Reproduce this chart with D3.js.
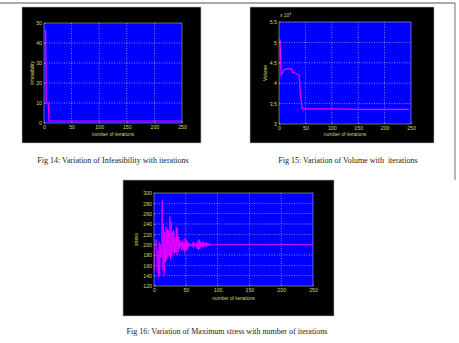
<!DOCTYPE html>
<html>
<head>
<meta charset="utf-8">
<script src="https://cdn.jsdelivr.net/npm/d3@7"></script>
<style>
  body { margin:0; background:#fff; }
  .tick text { fill:#d8d860; font-family:Arial, "Liberation Sans", sans-serif; }
  .cap { font-family:"Liberation Serif", "Times New Roman", serif; fill:#222; }
</style>
</head>
<body>
<div id="viz"></div>
<script>
// data
let xTicks = [0, 50, 100, 150, 200, 250]

// fig 14
let infIter = [1, 3, 4, 8, 9, 250]
let infVal  = [46, 46, 10, 10, 1, 1]
let infTicks = [0, 10, 20, 30, 40, 50]

// fig 15 (x 10^4)
let volIter = [0, 2, 4, 6, 10, 15, 24, 26, 30, 35, 38, 40, 44, 50, 100, 150, 200, 246]
let volVal  = [5.07, 5.05, 4.2, 4.25, 4.33, 4.35, 4.35, 4.27, 4.25, 4.22, 4.2, 3.8, 3.38, 3.37, 3.37, 3.36, 3.36, 3.36]
let volTicks = [3, 3.5, 4, 4.5, 5, 5.5]

// fig 16, one value per iteration 0..95 then flat
let stressVal = [150,175,205,210,200,150,190,135,205,140,
                 200,175,220,285,150,240,140,225,165,235,
                 170,230,175,228,180,255,172,245,178,225,
                 185,228,182,215,185,235,180,232,185,215,
                 192,208,195,205,188,210,190,205,185,212,
                 190,210,188,206,195,203,197,202,198,201,
                 196,205,194,204,198,202,195,203,192,208,
                 190,210,192,206,195,204,196,205,195,204,
                 197,203,196,204,197,203,198,202,198,202,
                 199,201,199,201,200,200]
let stressTail = [[250, 200]]
let stressTicks = [120, 140, 160, 180, 200, 220, 240, 260, 280, 300]

let W = 459, H = 343

let svg = d3.select("#viz")
  .append("svg")
    .attr("width", W)
    .attr("height", H)

svg.append("rect").attr("width", W).attr("height", H).attr("fill", "#fff")

// page borders
svg.append("line").attr("x1", 0).attr("x2", 455).attr("y1", 3).attr("y2", 3)
    .attr("stroke", "#555").attr("stroke-width", 1)
svg.append("line").attr("x1", 455).attr("x2", 455).attr("y1", 3).attr("y2", 180)
    .attr("stroke", "#888").attr("stroke-width", 1.2)

function panel(p) {
    let g = svg.append("g")

    // black figure
    g.append("rect")
        .attr("x", p.box[0]).attr("y", p.box[1])
        .attr("width", p.box[2]).attr("height", p.box[3])
        .attr("fill", "#000")
        .attr("stroke", "#bbb").attr("stroke-width", 0.6)

    let x = d3.scaleLinear().domain([0, 250]).range([p.plot[0], p.plot[0] + p.plot[2]])
    let y = d3.scaleLinear().domain(p.yDomain).range([p.plot[1] + p.plot[3], p.plot[1]])

    g.append("rect")
        .attr("x", p.plot[0]).attr("y", p.plot[1])
        .attr("width", p.plot[2]).attr("height", p.plot[3])
        .attr("fill", "#0000ff")

    // grid
    g.selectAll(".gx").data(xTicks.slice(1, -1)).join("line")
        .attr("x1", d => x(d)).attr("x2", d => x(d))
        .attr("y1", p.plot[1]).attr("y2", p.plot[1] + p.plot[3])
        .attr("stroke", "#fff").attr("stroke-width", 0.6).attr("stroke-dasharray", "1,1.5")
        .attr("opacity", 0.85)
    g.selectAll(".gy").data(p.yTicks.slice(1, -1)).join("line")
        .attr("y1", d => y(d)).attr("y2", d => y(d))
        .attr("x1", p.plot[0]).attr("x2", p.plot[0] + p.plot[2])
        .attr("stroke", "#fff").attr("stroke-width", 0.6).attr("stroke-dasharray", "1,1.5")
        .attr("opacity", 0.85)

    // line
    g.append("path")
        .datum(p.data)
        .attr("fill", "none")
        .attr("stroke", "#ff00ff")
        .attr("stroke-width", p.lw || 1.2)
        .attr("d", d3.line().x(d => x(d[0])).y(d => y(d[1])))

    // axes
    let xAxis = d3.axisBottom(x).tickValues(xTicks).tickSize(-1.5).tickPadding(2)
    let yAxis = d3.axisLeft(y).tickValues(p.yTicks).tickSize(-1.5).tickPadding(2)
        .tickFormat(p.yFmt || d3.format("d"))

    let gx = g.append("g").attr("transform", `translate(0,${p.plot[1] + p.plot[3]})`).call(xAxis)
    let gy = g.append("g").attr("transform", `translate(${p.plot[0]},0)`).call(yAxis)
    ;[gx, gy].forEach(a => {
        a.select(".domain").remove()
        a.selectAll(".tick line").attr("stroke", "#ccc").attr("stroke-width", 0.5)
        a.selectAll(".tick text").style("font-size", "5.2px")
    })

    // box
    g.append("rect")
        .attr("x", p.plot[0]).attr("y", p.plot[1])
        .attr("width", p.plot[2]).attr("height", p.plot[3])
        .attr("fill", "none").attr("stroke", "#b0b0b0").attr("stroke-width", 0.6)

    g.append("text")
        .attr("x", x(125)).attr("y", p.xLabY)
        .attr("text-anchor", "middle")
        .attr("fill", "#d8d860").style("font-size", "4.8px")
        .style("font-family", "Arial, 'Liberation Sans', sans-serif")
        .text("number of iterations")

    g.append("text")
        .attr("transform", `translate(${p.yLabX},${y((p.yDomain[0] + p.yDomain[1]) / 2)}) rotate(-90)`)
        .attr("text-anchor", "middle")
        .attr("fill", "#d8d860").style("font-size", "4.8px")
        .style("font-family", "Arial, 'Liberation Sans', sans-serif")
        .text(p.yLabel)

    g.append("text").attr("class", "cap")
        .attr("x", p.cap[0]).attr("y", p.cap[1])
        .attr("text-anchor", "middle")
        .style("font-size", "8px")
        .text(p.caption)
    return g
}

panel({
    box: [22, 7, 179, 136], plot: [44, 23, 138, 100],
    yDomain: [0, 50], yTicks: infTicks,
    data: infIter.map((d, i) => [d, infVal[i]]),
    xLabY: 136, yLabX: 34, yLabel: "Infeasibility",
    cap: [113, 163], caption: "Fig 14: Variation of Infeasibility with iterations"
})

let p2 = panel({
    box: [250, 7, 184, 136], plot: [279, 22, 132, 102],
    yDomain: [3, 5.5], yTicks: volTicks, yFmt: d3.format("~g"),
    data: volIter.map((d, i) => [d, volVal[i]]),
    xLabY: 136, yLabX: 267, yLabel: "Volume",
    cap: [348, 163], caption: "Fig 15: Variation of Volume with \u00a0iterations"
})
let mult = p2.append("text")
    .attr("x", 280).attr("y", 17)
    .attr("fill", "#d8d860").style("font-size", "4.8px")
    .style("font-family", "Arial, 'Liberation Sans', sans-serif")
    .text("x 10")
mult.append("tspan").attr("dy", -2).style("font-size", "3.6px").text("4")

panel({
    box: [123, 180, 211, 136], plot: [154, 193, 159, 93],
    yDomain: [120, 300], yTicks: stressTicks,
    data: stressVal.map((d, i) => [i, d]).concat(stressTail),
    lw: 0.8,
    xLabY: 300, yLabX: 138, yLabel: "stress",
    cap: [227, 334], caption: "Fig 16: Variation of Maximum stress with number of iterations"
})
</script>
</body>
</html>
